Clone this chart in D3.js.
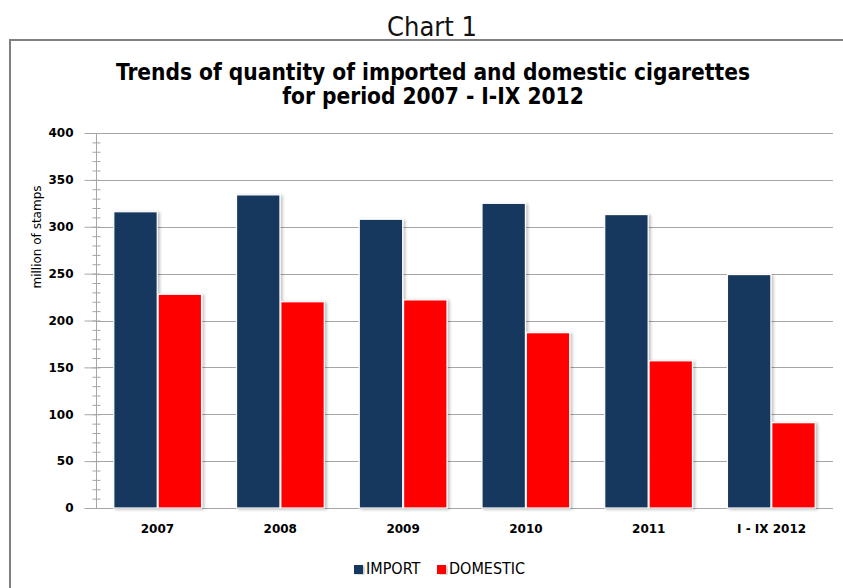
<!DOCTYPE html>
<html>
<head>
<meta charset="utf-8">
<script src="https://cdn.jsdelivr.net/npm/d3@7"></script>
<style>
  body { margin: 0; background: #fff; }
</style>
</head>
<body>
<script>
// chart data
var categories = ["2007", "2008", "2009", "2010", "2011", "I - IX 2012"];
var seriesNames = ["IMPORT", "DOMESTIC"];
var importValues = [316, 334, 308, 325, 313, 249];
var domesticValues = [228, 220, 222, 187, 157, 91];
var yTicks = [0, 50, 100, 150, 200, 250, 300, 350, 400];

var w = 843;
var h = 588;
var colors = {IMPORT: "#17375e", DOMESTIC: "#ff0000"};

// plot area
const margin = {top: 133, bottom: 80, right: 10, left: 96};

var rows = categories.map(function(c, i) {
  return {cat: c, IMPORT: importValues[i], DOMESTIC: domesticValues[i]};
});

var svg = d3.select("body")
            .append("svg")
            .attr("width", w)
            .attr("height", h);

// soft shadow for bars
var defs = svg.append("defs");
var filter = defs.append("filter").attr("id", "shadow")
                 .attr("x", "-20%").attr("y", "-10%")
                 .attr("width", "140%").attr("height", "120%");
filter.append("feDropShadow")
      .attr("dx", 2).attr("dy", 1)
      .attr("stdDeviation", 1.6)
      .attr("flood-color", "#000")
      .attr("flood-opacity", 0.25);

// outer title
svg.append("text")
   .attr("x", 432)
   .attr("y", 36)
   .attr("text-anchor", "middle")
   .attr("font-family", "'Liberation Sans Narrow', 'DejaVu Sans Condensed', sans-serif")
   .attr("font-size", "27px")
   .attr("fill", "#111")
   .text("Chart 1");

// frame
svg.append("rect")
   .attr("x", 10)
   .attr("y", 40)
   .attr("width", 900)
   .attr("height", 700)
   .attr("fill", "none")
   .attr("stroke", "#808080")
   .attr("stroke-width", 2);

// chart title
var title = svg.append("text")
   .attr("text-anchor", "middle")
   .attr("font-family", "'DejaVu Sans Condensed', 'DejaVu Sans', sans-serif")
   .attr("font-weight", "bold")
   .attr("font-size", "22.5px")
   .attr("fill", "#000");
title.append("tspan").attr("x", 433).attr("y", 80)
     .text("Trends of quantity of imported and domestic cigarettes");
title.append("tspan").attr("x", 433).attr("y", 104)
     .text("for period 2007 - I-IX 2012");

// scales
var x0 = d3.scaleBand()
           .domain(categories)
           .range([margin.left, 833])
           .paddingInner(0.285)
           .paddingOuter(0.145);

var x1 = d3.scaleBand()
           .domain(seriesNames)
           .range([0, x0.bandwidth()])
           .paddingInner(0.02);

var yScale = d3.scaleLinear()
               .domain([0, 400])
               .range([508, 133]);

var groupScale = d3.scaleBand()
                   .domain(categories)
                   .range([margin.left, 833]);

// gridlines
svg.append("g")
   .selectAll("line")
   .data(yTicks)
   .enter()
   .append("line")
   .attr("x1", margin.left)
   .attr("x2", 833)
   .attr("y1", function(d) { return Math.round(yScale(d)) + 0.5; })
   .attr("y2", function(d) { return Math.round(yScale(d)) + 0.5; })
   .attr("stroke", "#a6a6a6")
   .attr("stroke-width", 1);

// y axis minor ticks
const yAxisMinor = d3.axisLeft(yScale)
                     .tickValues(d3.range(0, 401, 10))
                     .tickSize(-4)
                     .tickFormat("");
svg.append("g")
   .attr("transform", "translate(" + (margin.left + 0.5) + ",0)")
   .call(yAxisMinor)
   .call(function(g) {
     g.select(".domain").remove();
     g.selectAll("line").attr("stroke", "#a6a6a6").attr("x1", -4).attr("x2", 4);
   });

// y axis major ticks and labels
const yAxis = d3.axisLeft(yScale)
                .tickValues(yTicks)
                .tickSize(12)
                .tickPadding(11);
svg.append("g")
   .attr("transform", "translate(" + (margin.left + 0.5) + ",0)")
   .call(yAxis)
   .call(function(g) {
     g.select(".domain").attr("stroke", "#a6a6a6").attr("d", "M0," + yScale(0) + "V" + yScale(400));
     g.selectAll("line").attr("stroke", "#a6a6a6");
     g.selectAll("text")
      .attr("font-family", "'DejaVu Sans', Verdana, sans-serif")
      .attr("font-weight", "bold")
      .attr("font-size", "12px")
      .attr("fill", "#000");
   });

// y axis label
svg.append("text")
   .attr("transform", "translate(41," + 237 + ") rotate(-90)")
   .attr("text-anchor", "middle")
   .attr("font-family", "'DejaVu Sans', sans-serif")
   .attr("font-size", "12px")
   .attr("fill", "#000")
   .text("million of stamps");

// bars
var groups = svg.append("g")
                .selectAll("g")
                .data(rows)
                .enter()
                .append("g")
                .attr("transform", function(d) { return "translate(" + x0(d.cat) + ",0)"; });

groups.selectAll("rect")
      .data(function(d) {
        return seriesNames.map(function(s) { return {key: s, value: d[s]}; });
      })
      .enter()
      .append("rect")
      .attr("x", function(d) { return x1(d.key); })
      .attr("y", function(d) { return yScale(d.value); })
      .attr("width", x1.bandwidth())
      .attr("height", function(d) { return yScale(0) - yScale(d.value); })
      .attr("fill", function(d) { return colors[d.key]; })
      .attr("stroke", "#fff")
      .attr("stroke-width", 1.2)
      .attr("filter", "url(#shadow)");

// x axis labels
const xAxis = d3.axisBottom(groupScale).tickSize(0).tickPadding(16);
svg.append("g")
   .attr("transform", "translate(0," + yScale(0) + ")")
   .call(xAxis)
   .call(function(g) {
     g.select(".domain").remove();
     g.selectAll("text")
      .attr("font-family", "'DejaVu Sans', Verdana, sans-serif")
      .attr("font-weight", "bold")
      .attr("font-size", "12px")
      .attr("fill", "#000");
   });

// legend
var legend = svg.append("g").attr("transform", "translate(354,574)");
var legendX = [0, 83];
seriesNames.forEach(function(s, i) {
  var item = legend.append("g").attr("transform", "translate(" + legendX[i] + ",0)");
  item.append("rect")
      .attr("x", 0).attr("y", -9)
      .attr("width", 9).attr("height", 9)
      .attr("fill", colors[s])
      .attr("filter", "url(#shadow)");
  item.append("text")
      .attr("x", 12).attr("y", 0)
      .attr("font-family", "'Liberation Sans Narrow', 'DejaVu Sans Condensed', sans-serif")
      .attr("font-size", "16px")
      .attr("fill", "#000")
      .text(s);
});
</script>
</body>
</html>
